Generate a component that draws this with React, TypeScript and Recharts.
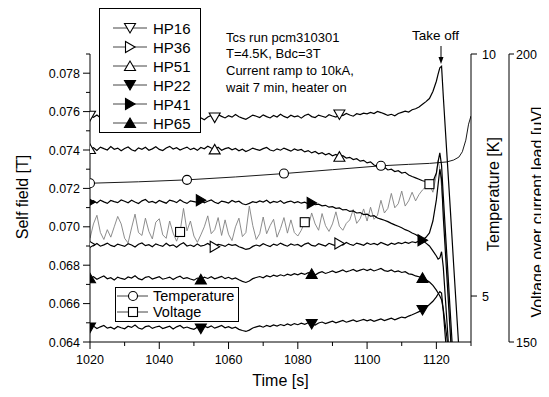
import React from 'react'
import { LineChart, Line, XAxis, YAxis } from 'recharts'

// sample times [s] for the hall probe traces and the lead voltage
const times = [
  1020, 1021, 1022, 1023, 1024, 1025, 1026, 1027, 1028, 1029,
  1030, 1031, 1032, 1033, 1034, 1035, 1036, 1037, 1038, 1039,
  1040, 1041, 1042, 1043, 1044, 1045, 1046, 1047, 1048, 1049,
  1050, 1051, 1052, 1053, 1054, 1055, 1056, 1057, 1058, 1059,
  1060, 1061, 1062, 1063, 1064, 1065, 1066, 1067, 1068, 1069,
  1070, 1071, 1072, 1073, 1074, 1075, 1076, 1077, 1078, 1079,
  1080, 1081, 1082, 1083, 1084, 1085, 1086, 1087, 1088, 1089,
  1090, 1091, 1092, 1093, 1094, 1095, 1096, 1097, 1098, 1099,
  1100, 1101, 1102, 1103, 1104, 1105, 1106, 1107, 1108, 1109,
  1110, 1111, 1112, 1113, 1114, 1115, 1116, 1117, 1118,
  1119, 1120, 1120.5, 1121, 1121.5, 1122, 1123, 1124, 1125, 1126, 1127,
]

// self field [T]
const hp16 = [
  0.07578, 0.0757, 0.07582, 0.07568, 0.07576, 0.07585, 0.07571, 0.07566, 0.0758, 0.07574,
  0.07569, 0.07583, 0.07575, 0.07564, 0.07578, 0.07586, 0.07572, 0.07577, 0.07565, 0.0758,
  0.07574, 0.07568, 0.07584, 0.07571, 0.07576, 0.07563, 0.07579, 0.07587, 0.0757, 0.07575,
  0.07566, 0.07581, 0.07568, 0.07558, 0.07572, 0.0758, 0.07569, 0.07584, 0.07575, 0.07567,
  0.07579, 0.07571, 0.07585, 0.07573, 0.07566, 0.0756, 0.0757, 0.07582, 0.07576, 0.07569,
  0.07583, 0.07574, 0.07567, 0.0758, 0.07572, 0.07586, 0.07575, 0.07568, 0.07581, 0.07573,
  0.07578, 0.07566, 0.0758, 0.07587, 0.07574, 0.07569, 0.07582, 0.07576, 0.0757, 0.07584,
  0.07577, 0.07571, 0.07585, 0.07579, 0.0759, 0.07582, 0.07576, 0.07589, 0.07584, 0.07592,
  0.07588, 0.07596, 0.0759, 0.07601, 0.07595, 0.07588, 0.0758, 0.07586, 0.07578, 0.0759,
  0.07596, 0.07602, 0.07598, 0.0761, 0.07615, 0.07624, 0.07638, 0.07652, 0.07668,
  0.07705, 0.07758, 0.07795, 0.07828, 0.07836, 0.0768, 0.0739, 0.071, 0.068, 0.0651, 0.0622,
]
const hp36 = [
  0.06908, 0.06901, 0.06913, 0.06899, 0.06906, 0.06915, 0.06903, 0.06897, 0.0691, 0.06904,
  0.06898, 0.06912, 0.06905, 0.06895, 0.06909, 0.06916, 0.06902, 0.06907, 0.06896, 0.06911,
  0.06904, 0.06898, 0.06914, 0.06901, 0.06906, 0.06894, 0.06908, 0.06917, 0.069, 0.06905,
  0.06897, 0.06911, 0.06899, 0.06904, 0.06913, 0.06902, 0.06896, 0.06909, 0.06905, 0.06898,
  0.0691, 0.06903, 0.06907, 0.06896, 0.0689, 0.06882, 0.06886, 0.06898, 0.06905, 0.069,
  0.06912, 0.06904, 0.06897, 0.0691, 0.06903, 0.06915, 0.06906, 0.06899, 0.06911, 0.06904,
  0.06908, 0.06897, 0.0691, 0.06916, 0.06903, 0.06899, 0.06912, 0.06906, 0.069, 0.06914,
  0.06907, 0.06901, 0.06913, 0.06905, 0.06918, 0.06909, 0.06903, 0.06915, 0.0691, 0.06904,
  0.06916, 0.06908, 0.06913, 0.06906, 0.06918, 0.06911, 0.06904, 0.06915, 0.06909, 0.06917,
  0.06912, 0.0692, 0.06914, 0.06922, 0.06918, 0.06926, 0.06932, 0.06945, 0.06968,
  0.0703, 0.0714, 0.0722, 0.073, 0.0725, 0.0705, 0.0675, 0.0645, 0.0615, 0.0585, 0.0555,
]
const hp51 = [
  0.07405, 0.07412, 0.07398, 0.07415, 0.07407, 0.074, 0.07418, 0.07404, 0.0741, 0.07396,
  0.07408, 0.07416, 0.07401, 0.07395, 0.07411, 0.07404, 0.07414, 0.07399, 0.07406, 0.07417,
  0.07403, 0.07397, 0.0741, 0.07419, 0.07405, 0.07412, 0.074, 0.07408, 0.07415, 0.07402,
  0.07409, 0.07398, 0.07413, 0.07406, 0.0742, 0.0741, 0.07403, 0.07414, 0.07399, 0.07407,
  0.07412, 0.07401, 0.07408, 0.07396, 0.07404, 0.07392, 0.074, 0.0741, 0.07403, 0.07398,
  0.07407, 0.07413, 0.074, 0.07395, 0.07406, 0.07399, 0.0741, 0.07402, 0.07394, 0.07405,
  0.07398, 0.07403, 0.0739, 0.07397, 0.07385, 0.07392, 0.0738, 0.07386, 0.07375, 0.07382,
  0.0737, 0.07377, 0.07365, 0.0737, 0.07358, 0.07362, 0.0735, 0.07355, 0.07342, 0.07346,
  0.07333, 0.07338, 0.07322, 0.07315, 0.07305, 0.0731, 0.07296, 0.073, 0.07288, 0.07292,
  0.0728, 0.07284, 0.0727, 0.07262, 0.07255, 0.07248, 0.0724, 0.07236, 0.07228,
  0.07235, 0.0728, 0.0734, 0.07385, 0.0732, 0.0716, 0.0686, 0.0656, 0.0626, 0.0596, 0.0566,
]
const hp22 = [
  0.06475, 0.06483, 0.0647, 0.06479, 0.06486, 0.06472, 0.06477, 0.06468, 0.06481, 0.06474,
  0.06469, 0.06482, 0.06476, 0.06488, 0.06473, 0.06467, 0.0648, 0.06484, 0.06471, 0.06478,
  0.06483, 0.0647, 0.06476, 0.06482, 0.06468, 0.06479, 0.06486, 0.06473, 0.06478, 0.06471,
  0.06466, 0.06477, 0.0647, 0.06482, 0.06475, 0.06484, 0.06472, 0.06479, 0.06486, 0.06474,
  0.0648, 0.06471, 0.06477, 0.06466, 0.0646, 0.06455, 0.06462, 0.06473, 0.06479, 0.06484,
  0.06477, 0.06486, 0.0648, 0.06489, 0.06483, 0.06491, 0.06485, 0.06494, 0.06487, 0.06496,
  0.0649, 0.06498, 0.06492, 0.065, 0.06494, 0.06488, 0.06499, 0.06504, 0.06496, 0.06502,
  0.06508, 0.065, 0.06506, 0.06512, 0.06503, 0.06509, 0.06515, 0.06506, 0.06512, 0.06518,
  0.0651, 0.06516, 0.06508, 0.06514, 0.0652, 0.06512, 0.06518, 0.06524, 0.06516, 0.06523,
  0.0653, 0.06526, 0.06535, 0.06542, 0.0655, 0.06558, 0.06567, 0.0658, 0.06595,
  0.06612, 0.06635, 0.0665, 0.06662, 0.06655, 0.0656, 0.0633, 0.061, 0.0587, 0.0564, 0.0541,
]
const hp41 = [
  0.07128, 0.07136, 0.07124, 0.07139, 0.0713, 0.07122, 0.07137, 0.07131, 0.07126, 0.0714,
  0.07133, 0.07125, 0.07138, 0.07129, 0.07121, 0.07135, 0.07142, 0.07127, 0.07132, 0.07124,
  0.07137, 0.0713, 0.07123, 0.07139, 0.07134, 0.07126, 0.07141, 0.07129, 0.07122, 0.07135,
  0.07131, 0.07127, 0.07138, 0.07125, 0.07133, 0.0714, 0.07128, 0.07121, 0.07134, 0.0713,
  0.07124, 0.07137, 0.07129, 0.07133, 0.0712, 0.07115, 0.07122, 0.07131, 0.07126, 0.07135,
  0.07129, 0.07138, 0.07124, 0.07132, 0.07127, 0.07136, 0.07122, 0.0713, 0.07134, 0.07125,
  0.07131, 0.07123, 0.07128, 0.0712, 0.07124, 0.07115, 0.07118, 0.07109, 0.07112, 0.07102,
  0.07105, 0.07096, 0.07098, 0.07088, 0.0709, 0.0708, 0.07083, 0.07072, 0.07074, 0.07064,
  0.07066, 0.07055, 0.07058, 0.07046, 0.0704, 0.07034, 0.07027, 0.07018, 0.0701, 0.07003,
  0.06995, 0.06985, 0.06978, 0.06968, 0.0696, 0.06948, 0.0693, 0.06915, 0.069,
  0.06875, 0.06848, 0.06832, 0.06838, 0.0687, 0.0679, 0.0652, 0.0625, 0.0598, 0.0571, 0.0544,
]
const hp65 = [
  0.06732, 0.0674, 0.06727, 0.06736, 0.06744, 0.06729, 0.06735, 0.06723, 0.06738, 0.06731,
  0.06726, 0.06739, 0.06733, 0.06745, 0.0673, 0.06724, 0.06737, 0.06741, 0.06728, 0.06734,
  0.0674, 0.06727, 0.06732, 0.06738, 0.06725, 0.06736, 0.06743, 0.0673, 0.06735, 0.06728,
  0.06722, 0.06733, 0.06726, 0.06738, 0.06731, 0.0674, 0.06729, 0.06735, 0.06742, 0.0673,
  0.06737, 0.06728, 0.06734, 0.06724, 0.06716, 0.0671, 0.06718, 0.0673, 0.06736, 0.06741,
  0.06734, 0.06745, 0.06739, 0.06748, 0.06742, 0.0675, 0.06744, 0.06753, 0.06747, 0.06756,
  0.0675, 0.06758, 0.06752, 0.06761, 0.06755, 0.06749, 0.0676, 0.06766, 0.06757, 0.06763,
  0.0677, 0.06762, 0.06768, 0.06775, 0.06765, 0.06771, 0.06778, 0.06768, 0.06774, 0.0678,
  0.06772, 0.06779, 0.0677, 0.06776, 0.06783, 0.06772, 0.06768, 0.06775, 0.06765, 0.0677,
  0.06762, 0.06766, 0.06755, 0.06752, 0.06744, 0.0674, 0.06734, 0.06724, 0.06712,
  0.06695, 0.0667, 0.06655, 0.0664, 0.0662, 0.0657, 0.0643, 0.0625, 0.0605, 0.0585, 0.0565,
]

// voltage over current lead [uV]
const voltage = [
  168.0, 170.5, 172.0, 169.0, 167.8, 169.5, 168.2, 170.0, 171.8, 170.5,
  168.0, 167.2, 169.8, 172.2, 169.0, 168.5, 171.5, 169.2, 167.9, 170.8,
  171.4, 168.6, 168.0, 171.0, 168.9, 167.5, 169.1, 173.2, 169.3, 171.0,
  168.4, 167.3, 168.6, 170.0, 171.9, 168.8, 169.5, 171.6, 168.5, 171.2,
  168.7, 167.6, 170.0, 171.5, 168.3, 169.0, 173.6, 170.2, 167.8, 168.8,
  171.7, 168.8, 170.2, 171.3, 168.2, 169.7, 171.6, 168.9, 171.2, 169.0,
  168.4, 169.4, 170.8, 170.0, 172.4, 170.5, 169.4, 172.3, 170.2, 169.2,
  170.5, 172.6, 170.1, 169.4, 170.6, 171.2, 173.0, 170.6, 171.4, 173.1,
  171.0, 173.4, 171.3, 172.0, 174.6, 172.4, 173.2, 175.8, 173.3, 174.0,
  176.2, 173.6, 174.5, 176.0, 174.5, 175.6, 176.4, 177.0, 177.4,
  176.0, 179.0, 181.5, 180.0, 177.0, 173.0, 164.0, 153.0, 142.0, 131.0, 120.0,
]

// temperature [K]
const tempTimes = [1020, 1034, 1048, 1062, 1076, 1090, 1104, 1112, 1118, 1123, 1125, 1126.5, 1127.5, 1128.5, 1129.3, 1130]
const temperature = [7.33, 7.36, 7.4, 7.46, 7.53, 7.61, 7.69, 7.72, 7.74, 7.77, 7.81, 7.87, 7.98, 8.22, 8.55, 8.72]

// times where the symbols sit
const openMarks = [1020, 1056, 1092]
const filledMarks = [1020, 1052, 1084, 1116]
const tempMarks = [1020, 1048, 1076, 1104]
const voltMarks = [1046, 1082, 1118]

const fieldTicks = [0.064, 0.065, 0.066, 0.067, 0.068, 0.069, 0.07, 0.071, 0.072, 0.073, 0.074, 0.075, 0.076, 0.077, 0.078, 0.079]
const timeTicks = [1020, 1030, 1040, 1050, 1060, 1070, 1080, 1090, 1100, 1110, 1120, 1130]
const tempTicks = [5, 10]
const voltTicks = [150, 200]

const notes = ['Tcs run pcm310301', 'T=4.5K, Bdc=3T', 'Current ramp to 10kA,', 'wait 7 min, heater on']

const font = '"Liberation Sans", Arial, Helvetica, sans-serif'

type Shape = 'down' | 'up' | 'right' | 'circle' | 'square'

function Marker({ cx, cy, shape, filled }: { cx: number; cy: number; shape: Shape; filled?: boolean }) {
  const fill = filled ? '#000' : '#fff'
  const common = { fill, stroke: '#000', strokeWidth: 1.1 }
  if (shape === 'down') return <polygon points={`${cx - 5.5},${cy - 4.5} ${cx + 5.5},${cy - 4.5} ${cx},${cy + 5}`} {...common} />
  if (shape === 'up') return <polygon points={`${cx - 5.5},${cy + 4.5} ${cx + 5.5},${cy + 4.5} ${cx},${cy - 5}`} {...common} />
  if (shape === 'right') return <polygon points={`${cx - 4.5},${cy - 5.5} ${cx - 4.5},${cy + 5.5} ${cx + 5},${cy}`} {...common} />
  if (shape === 'circle') return <circle cx={cx} cy={cy} r={4.5} {...common} />
  return <rect x={cx - 4.5} y={cy - 4.5} width={9} height={9} {...common} />
}

const markDot = (marks: number[], shape: Shape, filled = false) => (props: any) => {
  const { cx, cy, payload, index } = props
  if (cx == null || cy == null || !marks.includes(payload.t)) return <g key={`d${index}`} />
  return (
    <g key={`d${index}`}>
      <Marker cx={cx} cy={cy} shape={shape} filled={filled} />
    </g>
  )
}

const rows = (xs: number[], ys: number[]) => xs.map((t, i) => ({ t, v: ys[i] }))

function FieldTick({ x, y, payload }: any) {
  const major = Math.round(payload.value * 1000) % 2 === 0
  return (
    <g>
      <line x1={x} x2={x - (major ? 7 : 4)} y1={y} y2={y} stroke="#000" />
      {major && (
        <text x={x - 10} y={y + 4.5} textAnchor="end" fontSize={12.5} fontFamily={font} fill="#000">
          {payload.value.toFixed(3)}
        </text>
      )}
    </g>
  )
}

function TimeTick({ x, y, payload }: any) {
  const major = (payload.value - 1020) % 20 === 0 && payload.value <= 1120
  return (
    <g>
      <line x1={x} x2={x} y1={y} y2={y + (major ? 7 : 4)} stroke="#000" />
      {major && (
        <text x={x} y={y + 22} textAnchor="middle" fontSize={12.5} fontFamily={font} fill="#000">
          {payload.value}
        </text>
      )}
    </g>
  )
}

const rightTick = (len: number, gap: number) => ({ x, y, payload }: any) => (
  <g>
    <line x1={x} x2={x + len} y1={y} y2={y} stroke="#000" />
    <text x={x + gap} y={y + 4.5} fontSize={12.5} fontFamily={font} fill="#000">
      {payload.value}
    </text>
  </g>
)

function VText({ x, y, children }: { x: number; y: number; children: React.ReactNode }) {
  return (
    <text transform={`translate(${x},${y}) rotate(-90)`} textAnchor="middle" fontSize={16} fontFamily={font} fill="#000">
      {children}
    </text>
  )
}

const probes: { name: string; data: number[]; shape: Shape; filled: boolean }[] = [
  { name: 'HP16', data: hp16, shape: 'down', filled: false },
  { name: 'HP36', data: hp36, shape: 'right', filled: false },
  { name: 'HP51', data: hp51, shape: 'up', filled: false },
  { name: 'HP22', data: hp22, shape: 'down', filled: true },
  { name: 'HP41', data: hp41, shape: 'right', filled: true },
  { name: 'HP65', data: hp65, shape: 'up', filled: true },
]

export default function App() {
  return (
    <div style={{ position: 'relative', width: 541, height: 389, fontFamily: font }}>
      <LineChart width={541} height={389} margin={{ top: 46, right: 0, bottom: 0, left: 0 }}>
        <XAxis
          dataKey="t"
          type="number"
          domain={[1020, 1130]}
          ticks={timeTicks}
          interval={0}
          height={55}
          tickSize={0}
          tickMargin={0}
          tickLine={false}
          tick={TimeTick}
          axisLine={{ stroke: '#000' }}
          allowDataOverflow
        />
        <YAxis
          yAxisId="field"
          orientation="left"
          width={82}
          domain={[0.064, 0.079]}
          ticks={fieldTicks}
          interval={0}
          tickSize={0}
          tickMargin={0}
          tickLine={false}
          tick={FieldTick}
          axisLine={{ stroke: '#000' }}
          allowDataOverflow
        />
        <YAxis
          yAxisId="temp"
          orientation="right"
          width={38}
          domain={[4.05, 10]}
          ticks={tempTicks}
          interval={0}
          tickSize={0}
          tickMargin={0}
          tickLine={false}
          tick={rightTick(6, 11)}
          axisLine={{ stroke: '#000' }}
          allowDataOverflow
        />
        <YAxis
          yAxisId="volt"
          orientation="right"
          width={40}
          domain={[150, 200]}
          ticks={voltTicks}
          interval={0}
          tickSize={0}
          tickMargin={0}
          tickLine={false}
          tick={rightTick(5, 7)}
          axisLine={{ stroke: '#000' }}
          allowDataOverflow
        />
        <Line
          yAxisId="volt"
          data={rows(times, voltage)}
          dataKey="v"
          stroke="#808080"
          strokeWidth={0.9}
          dot={markDot(voltMarks, 'square')}
          activeDot={false}
          isAnimationActive={false}
        />
        <Line
          yAxisId="temp"
          data={rows(tempTimes, temperature)}
          dataKey="v"
          stroke="#000"
          strokeWidth={0.9}
          dot={markDot(tempMarks, 'circle')}
          activeDot={false}
          isAnimationActive={false}
        />
        {probes.map((p) => (
          <Line
            key={p.name}
            yAxisId="field"
            data={rows(times, p.data)}
            dataKey="v"
            name={p.name}
            stroke="#000"
            strokeWidth={1.2}
            dot={markDot(p.filled ? filledMarks : openMarks, p.shape, p.filled)}
            activeDot={false}
            isAnimationActive={false}
          />
        ))}
      </LineChart>
      <svg width={541} height={389} style={{ position: 'absolute', left: 0, top: 0, pointerEvents: 'none' }}>
        {/* axis titles */}
        <VText x={20} y={189}>Self field [T]</VText>
        <VText x={491} y={186}>Temperature [K]</VText>
        <VText x={535} y={204}>Voltage over current lead [{'\u03bc'}V]</VText>
        <text x={272.5} y={378} textAnchor="middle" fontSize={16} fontFamily={font} fill="#000">
          Time [s]
        </text>

        <rect x={91.5} y={0.5} width={101} height={124} fill="#fff" stroke="#000" />
        {probes.map((p, i) => {
          const y = 20 + i * 19
          return (
            <g key={p.name}>
              <line x1={105} x2={139} y1={y} y2={y} stroke="#444" />
              <Marker cx={122} cy={y} shape={p.shape} filled={p.filled} />
              <text x={145} y={y + 5.5} fontSize={15} fontFamily={font}>
                {p.name}
              </text>
            </g>
          )
        })}
        <rect x={107.5} y={279.5} width={123} height={34} fill="#fff" stroke="#000" />
        {[
          { label: 'Temperature', shape: 'circle' as Shape, y: 288 },
          { label: 'Voltage', shape: 'square' as Shape, y: 304 },
        ].map((e) => (
          <g key={e.label}>
            <line x1={109} x2={140} y1={e.y} y2={e.y} stroke="#444" />
            <Marker cx={125} cy={e.y} shape={e.shape} />
            <text x={145} y={e.y + 5} fontSize={14.5} fontFamily={font}>
              {e.label}
            </text>
          </g>
        ))}
        {notes.map((n, i) => (
          <text key={n} x={218} y={33.5 + i * 16.7} fontSize={13} fontFamily={font}>
            {n}
          </text>
        ))}
        <text x={404} y={32} fontSize={13.5} fontFamily={font}>
          Take off
        </text>
        <line x1={433} x2={433} y1={38} y2={52} stroke="#000" />
        <polygon points="430.5,49 435.5,49 433,56" fill="#000" />
      </svg>
    </div>
  )
}
